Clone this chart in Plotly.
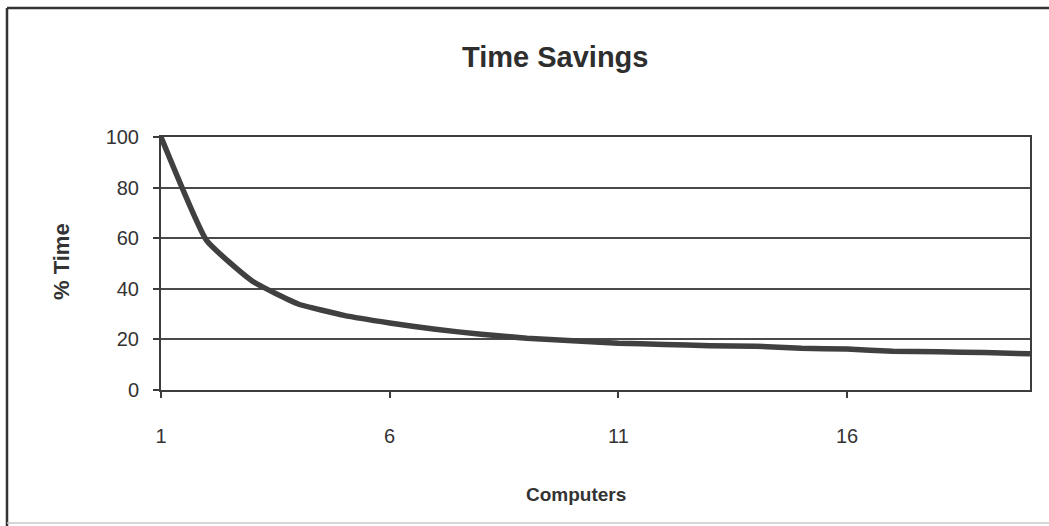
import plotly.graph_objects as go

# Relative run time versus number of computers
computers = list(range(1, 21))
pct_time = [100, 59, 43, 34, 29.5, 26.5, 24, 22, 20.5, 19.5,
            18.5, 18, 17.5, 17.3, 16.5, 16.2, 15.3, 15.1, 14.8, 14.3]
x_ticks = [1, 6, 11, 16]
y_ticks = [0, 20, 40, 60, 80, 100]

W, H = 1049, 526
L, R, T, B = 161, 19, 137, 136
pw, ph = W - L - R, H - T - B


def px(x):
    return (x - L) / pw


def py(y):
    return (H - B - y) / ph


ink = "#3c3c3c"
font = "Arial, 'Liberation Sans', Helvetica, sans-serif"

fig = go.Figure()
fig.add_trace(go.Scatter(
    x=computers, y=pct_time, mode="lines",
    line=dict(color="#404040", width=5.5, shape="spline", smoothing=0.4),
    hoverinfo="x+y", showlegend=False,
))

fig.update_layout(
    width=W, height=H,
    margin=dict(l=L, r=R, t=T, b=B),
    paper_bgcolor="white", plot_bgcolor="white",
    font=dict(family=font, color="#333333", size=20),
    xaxis=dict(
        range=[1, 20], tickvals=x_ticks, ticktext=[str(v) for v in x_ticks],
        showgrid=False, zeroline=False,
        showline=True, linecolor=ink, linewidth=2, mirror=True,
        ticks="outside", ticklen=6, tickwidth=1.5, tickcolor=ink,
        ticklabelstandoff=21,
        tickfont=dict(size=20, color="#333333"),
    ),
    yaxis=dict(
        range=[0, 100], tickvals=y_ticks,
        showgrid=True, gridcolor="#4a4a4a", gridwidth=2,
        zeroline=False,
        showline=True, linecolor=ink, linewidth=2, mirror=True,
        ticks="outside", ticklen=6, tickwidth=1.5, tickcolor=ink,
        ticklabelstandoff=10,
        tickfont=dict(size=20, color="#333333"),
    ),
    annotations=[
        dict(text="<b>Time Savings</b>", x=px(555), y=py(57),
             xref="paper", yref="paper", showarrow=False,
             xanchor="center", yanchor="middle",
             font=dict(size=29, color="#2e2e2e")),
        dict(text="<b>Computers</b>", x=px(576), y=py(494),
             xref="paper", yref="paper", showarrow=False,
             xanchor="center", yanchor="middle",
             font=dict(size=19, color="#333333")),
        dict(text="<b>% Time</b>", x=px(61), y=py(262), textangle=-90,
             xref="paper", yref="paper", showarrow=False,
             xanchor="center", yanchor="middle",
             font=dict(size=22, color="#333333")),
    ],
    shapes=[
        # chart-area frame
        dict(type="line", xref="paper", yref="paper",
             x0=px(7), x1=px(1060), y0=py(8), y1=py(8),
             line=dict(color="#333333", width=2.5)),
        dict(type="line", xref="paper", yref="paper",
             x0=px(7), x1=px(7), y0=py(8), y1=py(530),
             line=dict(color="#333333", width=2.5)),
        dict(type="line", xref="paper", yref="paper",
             x0=px(7), x1=px(1060), y0=py(523), y1=py(523),
             line=dict(color="#c8c8c8", width=1.5)),
    ],
)

fig.write_html("out.html")
